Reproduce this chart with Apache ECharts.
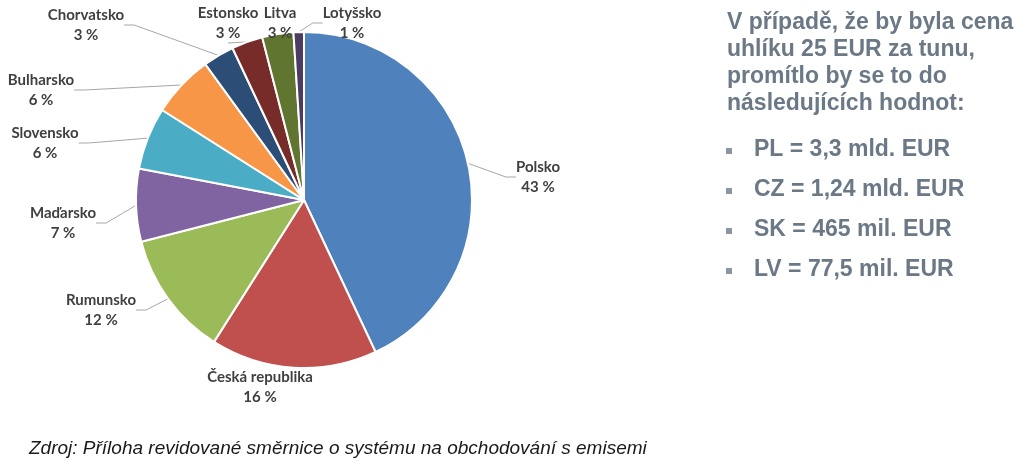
<!DOCTYPE html>
<html>
<head>
<meta charset="utf-8">
<title>Podíl zemí</title>
<script src="https://cdn.jsdelivr.net/npm/echarts@6/dist/echarts.min.js"></script>
<style>
  html, body { margin: 0; padding: 0; background: #fff; }
  #chart { width: 1024px; height: 465px; }
</style>
</head>
<body>
<div id="chart"></div>
<script>
// data
const countries = ['Polsko', 'Česká republika', 'Rumunsko', 'Maďarsko', 'Slovensko',
  'Bulharsko', 'Chorvatsko', 'Estonsko', 'Litva', 'Lotyšsko']
const shares = [43, 16, 12, 7, 6, 6, 3, 3, 3, 1]
const colors = ['#4F81BD', '#C0504D', '#9BBB59', '#8064A2', '#4BACC6',
  '#F79646', '#2C4D75', '#772C2A', '#5F7530', '#4D3B62']
const noteLines = ['V případě, že by byla cena', 'uhlíku 25 EUR za tunu,',
  'promítlo by se to do', 'následujících hodnot:']
const bullets = ['PL = 3,3 mld. EUR', 'CZ = 1,24 mld. EUR', 'SK = 465 mil. EUR', 'LV = 77,5 mil. EUR']
const source = 'Zdroj: Příloha revidované směrnice o systému na obchodování s emisemi'

// label anchors (text centre) like in the original slide
const labelSpots = [
  [538, 177], [260, 387], [101, 310], [63, 223], [45, 143],
  [41, 90], [86, 25], [228, 23], [280, 23], [352, 23]
]
const noLine = ['Česká republika', 'Litva']

const chart = echarts.init(document.getElementById('chart'))

const textColor = '#6B7886'
const noteFont = 'bold 23px "Liberation Sans", Arial, sans-serif'
const graphics = []
noteLines.forEach((t, i) => {
  graphics.push({
    type: 'text', x: 727, y: 23 + i * 27,
    style: { text: t, fill: textColor, font: noteFont, verticalAlign: 'middle' }
  })
})
bullets.forEach((t, i) => {
  const y = 150 + i * 40
  graphics.push({
    type: 'rect', shape: { x: 726, y: y - 2, width: 6, height: 6 },
    style: { fill: '#8A96A3' }
  })
  graphics.push({
    type: 'text', x: 754, y: y,
    style: { text: t, fill: textColor, font: noteFont, verticalAlign: 'middle' }
  })
})
graphics.push({
  type: 'text', x: 29, y: 449,
  style: { text: source, fill: '#1a1a1a', font: 'italic 19px "Liberation Sans", Arial, sans-serif', verticalAlign: 'middle' }
})

const option = {
  animation: false,
  color: colors,
  graphic: graphics,
  series: [
    {
      type: 'pie',
      center: [304, 200],
      radius: 168,
      startAngle: 90,
      clockwise: true,
      avoidLabelOverlap: false,
      itemStyle: { borderColor: '#fff', borderWidth: 2 },
      label: {
        show: true,
        formatter: '{b}\n{c} %',
        color: '#404040',
        fontFamily: 'Lato, "Open Sans", sans-serif',
        fontWeight: 'bold',
        fontSize: 15,
        lineHeight: 20,
        align: 'center'
      },
      labelLine: {
        show: true,
        length: 10,
        length2: 10,
        lineStyle: { color: '#A6A6A6', width: 1 }
      },
      labelLayout: function (params) {
        const p = labelSpots[params.dataIndex]
        return { x: p[0], y: p[1], align: 'center', verticalAlign: 'middle' }
      },
      data: countries.map((name, i) => ({
        name: name,
        value: shares[i],
        labelLine: { show: noLine.indexOf(name) < 0 }
      }))
    }
  ]
}

chart.setOption(option)
</script>
</body>
</html>
